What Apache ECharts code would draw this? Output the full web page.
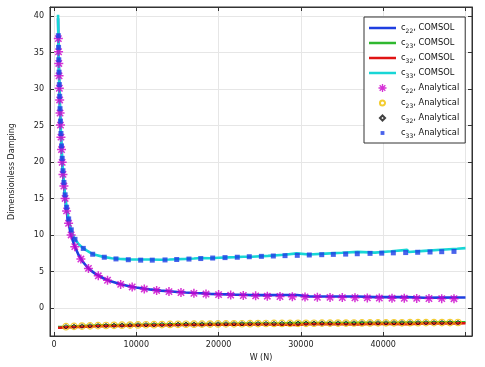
<!DOCTYPE html>
<html>
<head>
<meta charset="utf-8">
<script src="https://cdn.jsdelivr.net/npm/echarts@6/dist/echarts.min.js"></script>
<style>html,body{margin:0;padding:0;background:#fff;}#c{width:485px;height:367px;}</style>
</head>
<body>
<div id="c"></div>
<script>
// ---- COMSOL curves (shared W grid) ----
const W_COMSOL = [490,550,600,650,700,800,900,1000,1100,1200,1400,1600,1800,2000,2250,2500,3000,3500,4000,4500,5000,6000,7000,8000,9000,10000,11000,11600,11700,13000,14000,15000,16000,17000,17900,18000,19000,20000,22000,23000,23100,24000,26000,28000,29500,29700,31000,33000,35000,36900,37100,39000,41000,42900,43100,45000,47000,49000,50000];
const c22_COMSOL = [39.68,35.45,32.57,30.13,28.04,24.65,22.01,19.90,18.17,16.73,14.47,12.78,11.46,10.40,9.34,8.50,7.23,6.33,5.65,5.12,4.70,4.07,3.61,3.28,3.01,2.80,2.63,2.55,2.50,2.38,2.28,2.19,2.11,2.05,2.01,1.97,1.93,1.89,1.83,1.81,1.77,1.76,1.76,1.77,1.78,1.61,1.59,1.58,1.57,1.57,1.49,1.48,1.48,1.48,1.41,1.41,1.42,1.43,1.43];
const c23_COMSOL = [-2.62,-2.62,-2.61,-2.61,-2.61,-2.60,-2.60,-2.59,-2.59,-2.58,-2.57,-2.56,-2.55,-2.54,-2.53,-2.52,-2.50,-2.47,-2.45,-2.43,-2.41,-2.39,-2.37,-2.35,-2.33,-2.31,-2.29,-2.28,-2.29,-2.26,-2.25,-2.23,-2.22,-2.21,-2.20,-2.21,-2.19,-2.18,-2.16,-2.15,-2.16,-2.14,-2.12,-2.10,-2.08,-2.10,-2.08,-2.07,-2.05,-2.04,-2.06,-2.04,-2.02,-2.00,-2.02,-2.00,-1.98,-1.96,-1.95];
const c32_COMSOL = [-2.70,-2.70,-2.70,-2.69,-2.69,-2.69,-2.68,-2.68,-2.67,-2.67,-2.66,-2.65,-2.64,-2.63,-2.62,-2.61,-2.59,-2.57,-2.55,-2.53,-2.51,-2.49,-2.47,-2.45,-2.43,-2.41,-2.40,-2.41,-2.38,-2.37,-2.36,-2.34,-2.33,-2.32,-2.33,-2.30,-2.30,-2.29,-2.28,-2.29,-2.26,-2.26,-2.27,-2.29,-2.31,-2.20,-2.20,-2.22,-2.24,-2.26,-2.16,-2.17,-2.19,-2.21,-2.12,-2.12,-2.12,-2.11,-2.10];
const c33_COMSOL = [40.18,35.95,33.07,30.63,28.54,25.15,22.51,20.40,18.67,17.23,14.97,13.28,12.06,11.05,10.09,9.50,8.73,8.23,7.85,7.52,7.28,7.00,6.82,6.72,6.66,6.63,6.63,6.64,6.56,6.60,6.63,6.68,6.72,6.78,6.84,6.76,6.82,6.88,6.97,7.02,6.96,7.02,7.14,7.28,7.48,7.26,7.33,7.45,7.56,7.68,7.44,7.58,7.76,7.96,7.66,7.82,7.98,8.12,8.20];

// ---- Analytical points ----
const W_c22_an = [527,555,582,614,650,688,736,786,844,913,996,1091,1201,1346,1530,1772,2083,2527,3265,4185,5382,6500,8100,9500,10970,12470,13970,15430,17000,18470,20000,21470,23000,24500,25920,27460,28960,30500,32000,33540,35030,36570,38070,39530,41070,42560,44070,45560,47110,48600];
const c22_an = [36.9,35.1,33.5,31.8,30.1,28.5,26.7,25.05,23.4,21.7,19.95,18.3,16.7,15.0,13.3,11.6,10.0,8.4,6.7,5.42,4.41,3.80,3.23,2.88,2.61,2.40,2.24,2.11,2.00,1.91,1.83,1.76,1.71,1.66,1.61,1.57,1.54,1.50,1.47,1.45,1.42,1.40,1.38,1.36,1.34,1.33,1.31,1.30,1.28,1.27];
const W_c33_an = [529,554,583,615,651,688,734,785,844,913,995,1092,1203,1348,1532,1780,2100,2550,3560,4700,6110,7530,9030,10530,11940,13490,14910,16400,17830,19280,20780,22270,23730,25200,26650,28070,29560,31020,32530,33940,35440,36850,38400,39820,41230,42730,44190,45690,47110,48600];
const c33_an = [37.3,35.7,34.0,32.3,30.6,29.0,27.3,25.6,23.9,22.2,20.5,18.8,17.2,15.5,13.8,12.2,10.7,9.4,8.16,7.36,6.95,6.72,6.61,6.55,6.55,6.58,6.64,6.70,6.77,6.84,6.90,6.95,7.02,7.07,7.12,7.17,7.21,7.26,7.30,7.34,7.38,7.43,7.48,7.51,7.55,7.59,7.63,7.67,7.71,7.75];
const W_off_an = [1460,2430,3400,4380,5350,6320,7290,8260,9240,10210,11180,12150,13120,14100,15070,16040,17010,17980,18960,19930,20900,21870,22840,23820,24790,25760,26730,27700,28680,29650,30620,31590,32560,33540,34510,35480,36450,37420,38400,39370,40340,41310,42280,43260,44230,45200,46170,47140,48120,49090];
const c23_an = [-2.56,-2.52,-2.48,-2.45,-2.42,-2.40,-2.38,-2.36,-2.34,-2.32,-2.30,-2.29,-2.27,-2.26,-2.24,-2.23,-2.22,-2.21,-2.20,-2.19,-2.18,-2.17,-2.16,-2.15,-2.14,-2.13,-2.12,-2.12,-2.11,-2.10,-2.10,-2.09,-2.08,-2.08,-2.07,-2.07,-2.06,-2.05,-2.05,-2.04,-2.04,-2.03,-2.03,-2.02,-2.02,-2.01,-2.01,-2.00,-2.00,-1.99];
const c32_an = [-2.56,-2.52,-2.48,-2.45,-2.42,-2.40,-2.38,-2.36,-2.34,-2.32,-2.30,-2.29,-2.27,-2.26,-2.24,-2.23,-2.22,-2.21,-2.20,-2.19,-2.18,-2.17,-2.16,-2.15,-2.14,-2.13,-2.12,-2.12,-2.11,-2.10,-2.10,-2.09,-2.08,-2.08,-2.07,-2.07,-2.06,-2.05,-2.05,-2.04,-2.04,-2.03,-2.03,-2.02,-2.02,-2.01,-2.01,-2.00,-2.00,-1.99];

const xTickLabels = {0:'0',10000:'10000',20000:'20000',30000:'30000',40000:'40000'};

const pair = (xs, ys) => xs.map((x, i) => [x, ys[i]]);
const FONT = 'DejaVu Sans';
const STAR = 'path://M-1,-6L1,-6L1,6L-1,6Z M-6,-1L6,-1L6,1L-6,1Z M-3.53,-4.95L4.95,3.53L3.53,4.95L-4.95,-3.53Z M-4.95,3.53L3.53,-4.95L4.95,-3.53L-3.53,4.95Z';
const LINE_ICON = 'path://M0,0 M27,8 M0,2.75L27,2.75L27,5.25L0,5.25Z';

const lineSeries = (name, ys, color) => ({
  name, type: 'line', data: pair(W_COMSOL, ys), symbol: 'none', showSymbol: false,
  lineStyle: { color, width: 2.6 }, itemStyle: { color }, z: 2, silent: true
});

const chart = echarts.init(document.getElementById('c'), null, { renderer: 'canvas' });
chart.setOption({
  animation: false,
  backgroundColor: '#fff',
  textStyle: { fontFamily: FONT },
  grid: { left: 50, right: 13, top: 7, bottom: 31, show: true, borderColor: '#333', borderWidth: 1, backgroundColor: 'transparent' },
  xAxis: [{
    type: 'value', min: -486, max: 50790, splitNumber: 5,
    name: 'W (N)', nameLocation: 'middle', nameGap: 13,
    nameTextStyle: { fontSize: 8, color: '#222', fontFamily: FONT },
    axisLine: { show: true, onZero: false, lineStyle: { color: '#333' } },
    axisTick: { show: true, inside: true, length: 4, lineStyle: { color: '#333' } },
    axisLabel: { fontSize: 8, color: '#222', margin: 5, showMinLabel: false, showMaxLabel: false, fontFamily: FONT,
      formatter: v => (xTickLabels[v] !== undefined ? xTickLabels[v] : '') },
    splitLine: { show: true, lineStyle: { color: '#e6e6e6', width: 1 } }
  }, {
    type: 'value', position: 'top', min: -486, max: 50790, splitNumber: 5,
    axisLine: { show: true, onZero: false, lineStyle: { color: '#333' } },
    axisTick: { show: true, inside: true, length: 4, lineStyle: { color: '#333' } },
    axisLabel: { show: false }, splitLine: { show: false }
  }],
  yAxis: [{
    type: 'value', min: -3.84, max: 41.23, splitNumber: 9,
    name: 'Dimensionless Damping', nameLocation: 'middle', nameGap: 34,
    nameTextStyle: { fontSize: 8, color: '#222', fontFamily: FONT },
    axisLine: { show: true, onZero: false, lineStyle: { color: '#333' } },
    axisTick: { show: true, inside: true, length: 4, lineStyle: { color: '#333' } },
    axisLabel: { fontSize: 8, color: '#222', margin: 6, showMinLabel: false, showMaxLabel: false, fontFamily: FONT,
      formatter: v => (Math.abs(v / 5 - Math.round(v / 5)) < 1e-6 ? String(Math.round(v)) : '') },
    splitLine: { show: true, lineStyle: { color: '#e6e6e6', width: 1 } }
  }, {
    type: 'value', position: 'right', min: -3.84, max: 41.23, splitNumber: 9,
    axisLine: { show: true, onZero: false, lineStyle: { color: '#333' } },
    axisTick: { show: true, inside: true, length: 4, lineStyle: { color: '#333' } },
    axisLabel: { show: false }, splitLine: { show: false }
  }],
  legend: {
    orient: 'vertical', left: 364, top: 17, padding: [5, 6, 4, 5],
    itemWidth: 27, itemHeight: 8, itemGap: 3,
    backgroundColor: '#fff', borderColor: '#333', borderWidth: 1, borderRadius: 0,
    selectedMode: false,
    textStyle: { fontSize: 8.3, color: '#111', fontFamily: FONT, lineHeight: 12,
      rich: { s: { fontSize: 6, lineHeight: 6, verticalAlign: 'bottom', fontFamily: FONT, color: '#111' } } },
    formatter: n => n.replace(/^c(\d+)/, 'c{s|$1}'),
    data: [
      { name: 'c22, COMSOL', icon: LINE_ICON, itemStyle: { borderWidth: 0 } },
      { name: 'c23, COMSOL', icon: LINE_ICON, itemStyle: { borderWidth: 0 } },
      { name: 'c32, COMSOL', icon: LINE_ICON, itemStyle: { borderWidth: 0 } },
      { name: 'c33, COMSOL', icon: LINE_ICON, itemStyle: { borderWidth: 0 } },
      { name: 'c22, Analytical', icon: STAR },
      { name: 'c23, Analytical', icon: 'path://M0,0 M10,10 M5,1.8 A3.2,3.2 0 1 1 4.99,1.8 Z' },
      { name: 'c32, Analytical', icon: 'path://M0,0 M10,10 M5,1.8 L8.2,5 L5,8.2 L1.8,5 Z' },
      { name: 'c33, Analytical', icon: 'path://M0,0 M10,10 M2.6,2.6 L7.4,2.6 L7.4,7.4 L2.6,7.4 Z' }
    ]
  },
  series: [
    lineSeries('c22, COMSOL', c22_COMSOL, '#1f3fe0'),
    lineSeries('c23, COMSOL', c23_COMSOL, '#2fb82f'),
    lineSeries('c32, COMSOL', c32_COMSOL, '#e01414'),
    lineSeries('c33, COMSOL', c33_COMSOL, '#18d6d6'),
    { name: 'c22, Analytical', type: 'scatter', data: pair(W_c22_an, c22_an), symbol: STAR, symbolSize: 9,
      itemStyle: { color: '#cc00cc' }, z: 3, silent: true },
    { name: 'c23, Analytical', type: 'scatter', data: pair(W_off_an, c23_an), symbol: 'circle', symbolSize: 6.5,
      itemStyle: { color: 'rgba(0,0,0,0)', borderColor: '#f0c000', borderWidth: 1.2 }, z: 3, silent: true },
    { name: 'c32, Analytical', type: 'scatter', data: pair(W_off_an, c32_an), symbol: 'diamond', symbolSize: 4.5,
      itemStyle: { color: 'rgba(0,0,0,0)', borderColor: '#111', borderWidth: 1 }, z: 3, silent: true },
    { name: 'c33, Analytical', type: 'scatter', data: pair(W_c33_an, c33_an), symbol: 'rect', symbolSize: 5,
      itemStyle: { color: '#1d3ce6' }, z: 3, silent: true }
  ]
});
</script>
</body>
</html>
